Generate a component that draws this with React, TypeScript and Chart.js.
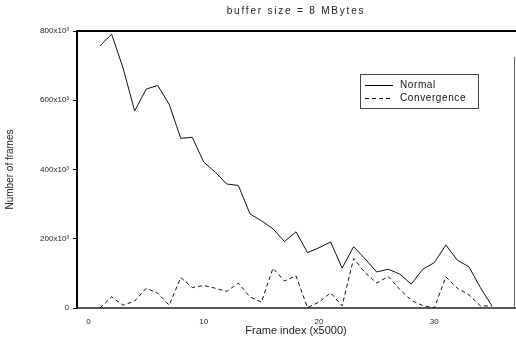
import { useEffect, useRef } from "react";
import { Chart, registerables } from "chart.js";

Chart.register(...registerables);

const chartTitle = "buffer size = 8 MBytes";
const xAxisTitle = "Frame index (x5000)";
const yAxisTitle = "Number of frames";

const frameIndex = [
  1, 2, 3, 4, 5, 6, 7, 8, 9, 10, 11, 12, 13, 14, 15, 16, 17, 18, 19, 20, 21, 22, 23, 24, 25, 26, 27, 28, 29, 30, 31,
  32, 33, 34, 35,
];
// values in thousands of frames
const normalFrames = [
  757, 791, 693, 569, 632, 643, 588, 490, 493, 421, 392, 358, 354, 272, 252, 229, 192, 220, 160, 174, 191, 115, 177,
  142, 104, 112, 98, 69, 112, 131, 182, 138, 119, 59, 6,
];
const convergenceFrames = [
  0, 32, 8, 20, 57, 43, 8, 88, 59, 65, 57, 48, 72, 32, 17, 115, 78, 93, 1, 17, 44, 6, 143, 102, 72, 91, 54, 22, 7, 0,
  90, 57, 38, 6, 6,
];
const seriesLabels = ["Normal", "Convergence"];

const xTicks = [0, 10, 20, 30];
const xTickLabels = ["0", "10", "20", "30"];
const yTicks = [0, 200, 400, 600, 800];
const yTickLabels = ["0", "200x10³", "400x10³", "600x10³", "800x10³"];

const FONT = "'Liberation Sans', Arial, sans-serif";

const framePlugin = {
  id: "frameDecor",
  afterDraw(chart: any) {
    const { ctx, chartArea } = chart;
    ctx.save();
    ctx.strokeStyle = "#000";
    ctx.lineWidth = 2;
    ctx.beginPath();
    ctx.moveTo(chartArea.left, chartArea.top);
    ctx.lineTo(chartArea.right + 1, chartArea.top);
    ctx.stroke();
    ctx.lineWidth = 1;
    ctx.strokeStyle = "#666";
    ctx.beginPath();
    ctx.moveTo(chartArea.right - 0.5, chartArea.top + 26);
    ctx.lineTo(chartArea.right - 0.5, chartArea.bottom);
    ctx.stroke();
    // title, spaced like the original print
    ctx.fillStyle = "#222";
    ctx.font = `10px ${FONT}`;
    ctx.textAlign = "center";
    ctx.textBaseline = "middle";
    (ctx as any).letterSpacing = "1.8px";
    ctx.fillText(chartTitle, (chartArea.left + chartArea.right) / 2, 11);
    (ctx as any).letterSpacing = "0px";
    ctx.restore();
  },
};

const legendPlugin = {
  id: "boxLegend",
  afterDraw(chart: any) {
    const { ctx } = chart;
    const x = 360;
    const y = 74;
    const w = 118;
    const h = 34;
    ctx.save();
    ctx.fillStyle = "#fff";
    ctx.fillRect(x, y, w, h);
    ctx.strokeStyle = "#444";
    ctx.lineWidth = 1;
    ctx.strokeRect(x + 0.5, y + 0.5, w, h);
    ctx.font = `10px ${FONT}`;
    ctx.textBaseline = "middle";
    (ctx as any).letterSpacing = "0.6px";
    chart.data.datasets.forEach((ds: any, i: number) => {
      const ly = y + 11 + i * 13;
      ctx.strokeStyle = "#000";
      ctx.lineWidth = ds.borderWidth;
      ctx.setLineDash(ds.borderDash || []);
      ctx.beginPath();
      ctx.moveTo(x + 5, ly + 0.5);
      ctx.lineTo(x + 33, ly + 0.5);
      ctx.stroke();
      ctx.setLineDash([]);
      ctx.fillStyle = "#111";
      ctx.fillText(ds.label, x + 40, ly);
    });
    (ctx as any).letterSpacing = "0px";
    ctx.restore();
  },
};

export default function App() {
  const ref = useRef<HTMLCanvasElement | null>(null);
  useEffect(() => {
    if (!ref.current) return;
    Chart.defaults.font.family = FONT;
    const chart = new Chart(ref.current, {
      type: "line",
      data: {
        datasets: [
          {
            label: seriesLabels[0],
            data: frameIndex.map((x, i) => ({ x, y: normalFrames[i] })),
            borderColor: "#111",
            borderWidth: 1,
            pointRadius: 0,
            tension: 0,
            fill: false,
          },
          {
            label: seriesLabels[1],
            data: frameIndex.map((x, i) => ({ x, y: convergenceFrames[i] })),
            borderColor: "#111",
            borderWidth: 1,
            borderDash: [4, 3],
            pointRadius: 0,
            tension: 0,
            fill: false,
          },
        ],
      },
      options: {
        responsive: false,
        animation: false,
        layout: { padding: { left: 0, right: 1, top: 31, bottom: 0 } },
        plugins: {
          legend: { display: false },
          tooltip: { enabled: false },
          title: { display: false },
        },
        scales: {
          x: {
            type: "linear",
            min: -1,
            max: 37,
            afterBuildTicks: (scale: any) => {
              scale.ticks = xTicks.map((v) => ({ value: v }));
            },
            afterFit: (scale: any) => {
              scale.height = 35;
            },
            ticks: {
              color: "#222",
              font: { size: 8 },
              padding: 1,
              maxRotation: 0,
              callback: (_v: any, i: number) => xTickLabels[i],
            },
            grid: { display: false },
            border: { display: true, color: "#555", width: 2 },
            title: {
              display: true,
              text: xAxisTitle,
              color: "#222",
              font: { size: 11 },
              padding: { top: 0, bottom: 5 },
            },
          },
          y: {
            type: "linear",
            min: 0,
            max: 800,
            afterBuildTicks: (scale: any) => {
              scale.ticks = yTicks.map((v) => ({ value: v }));
            },
            afterFit: (scale: any) => {
              scale.width = 77;
            },
            ticks: {
              color: "#222",
              font: { size: 8 },
              padding: 4,
              callback: (_v: any, i: number) => yTickLabels[i],
            },
            grid: { display: true, drawOnChartArea: false, tickLength: 4, color: "#000" },
            border: { display: true, color: "#000", width: 2 },
            title: {
              display: true,
              text: yAxisTitle,
              color: "#222",
              font: { size: 10 },
              padding: { top: 4, bottom: 0 },
            },
          },
        },
      },
      plugins: [framePlugin, legendPlugin],
    });
    return () => chart.destroy();
  }, []);
  return (
    <div style={{ position: "fixed", left: 0, top: 0, width: 516, height: 343, background: "#fff" }}>
      <canvas ref={ref} width={516} height={343} style={{ display: "block" }} />
    </div>
  );
}
